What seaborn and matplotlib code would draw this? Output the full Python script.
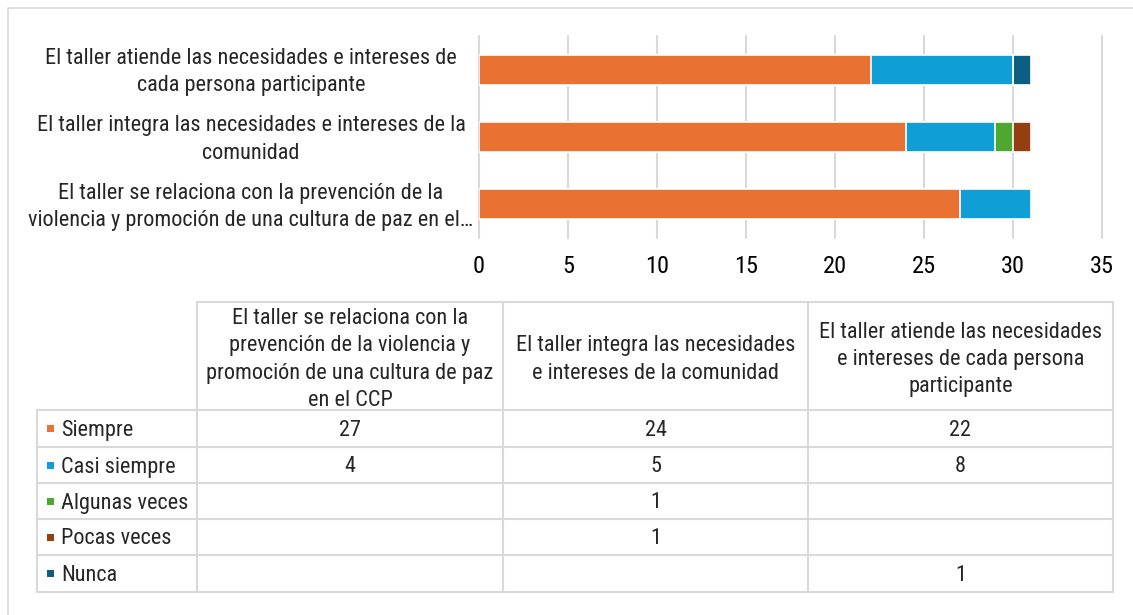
import pandas as pd
import matplotlib
matplotlib.use("Agg")
import matplotlib.pyplot as plt
import matplotlib.transforms as mtransforms
from matplotlib.patches import Rectangle
from matplotlib import font_manager
import seaborn as sns

categories = [
    "El taller atiende las necesidades e intereses de cada persona participante",
    "El taller integra las necesidades e intereses de la comunidad",
    "El taller se relaciona con la prevención de la violencia y promoción de una cultura de paz en el CCP",
]
axis_labels = [
    "El taller atiende las necesidades e intereses de\ncada persona participante",
    "El taller integra las necesidades e intereses de la\ncomunidad",
    "El taller se relaciona con la prevención de la\nviolencia y promoción de una cultura de paz en el…",
]
table_headers = [
    "El taller se relaciona con la\nprevención de la violencia y\npromoción de una cultura de paz\nen el CCP",
    "El taller integra las necesidades\ne intereses de la comunidad",
    "El taller atiende las necesidades\ne intereses de cada persona\nparticipante",
]
responses = ["Siempre", "Casi siempre", "Algunas veces", "Pocas veces", "Nunca"]
siempre = [22, 24, 27]
casi_siempre = [8, 5, 4]
algunas_veces = [0, 1, 0]
pocas_veces = [0, 1, 0]
nunca = [1, 0, 0]
colors = ["#E97132", "#0F9ED5", "#4EA72E", "#953E12", "#0C5F80"]
xticks = [0, 5, 10, 15, 20, 25, 30, 35]

df = pd.DataFrame({"tema": categories, "Siempre": siempre, "Casi siempre": casi_siempre,
                   "Algunas veces": algunas_veces, "Pocas veces": pocas_veces, "Nunca": nunca})
cum = df[responses].cumsum(axis=1)
for r in responses:
    df["cum_" + r] = cum[r]

sns.set_style("white")
names = {f.name for f in font_manager.fontManager.ttflist}
main_font = "Liberation Sans"
for cand in ["Liberation Sans Narrow", "Arial Narrow", "Roboto Condensed", "Liberation Sans"]:
    if cand in names:
        main_font = cand
        break
plt.rcParams["font.family"] = [main_font, "DejaVu Sans"]

W, H = 1133, 615
fig = plt.figure(figsize=(W / 100, H / 100), dpi=100)

# pick a font size so the widest label line is as wide as in the original (~411 px)
renderer = fig.canvas.get_renderer()
probe = fig.text(0, 0, "El taller atiende las necesidades e intereses de", fontsize=15)
probe_w = probe.get_window_extent(renderer).width
probe.remove()
FS = 15 * 411 / probe_w
LINE = 27.3  # px between lines

# background layer in pixel coordinates for frame + table
bg = fig.add_axes([0, 0, 1, 1], zorder=-1)
bg.set_xlim(0, W)
bg.set_ylim(H, 0)
bg.axis("off")
line_c = "#D9D9D9"
bg.plot([8, 8, W], [H, 8, 8], color=line_c, lw=1.2)


def multiline(axis, x, y, txt, transform=None, **kw):
    lines = txt.split("\n")
    n = len(lines)
    base = transform if transform is not None else axis.transData
    for k, ln in enumerate(lines):
        dy = -(k - (n - 1) / 2) * LINE
        tr = mtransforms.offset_copy(base, fig=fig, x=0, y=dy, units="dots")
        axis.text(x, y, ln, transform=tr, ha="center", va="center_baseline",
                  fontsize=FS, clip_on=False, **kw)


# bar chart
ax_l, ax_r, ax_t, ax_b = 479, 1102, 36, 238
ax = fig.add_axes([ax_l / W, 1 - ax_b / H, (ax_r - ax_l) / W, (ax_b - ax_t) / H])
for i in range(len(responses) - 1, -1, -1):
    sns.barplot(data=df, x="cum_" + responses[i], y="tema", order=categories, orient="h",
                color=colors[i], saturation=1, width=0.45, errorbar=None,
                edgecolor="white", linewidth=1.2, ax=ax)
ax.set_xlim(0, 35)
ax.set_ylim(2.5, -0.5)
ax.set_xticks(xticks)
ax.set_axisbelow(True)
ax.xaxis.grid(True, color=line_c, lw=1.5)
ax.yaxis.grid(False)
for gl in ax.get_xgridlines():
    gl.set_clip_on(False)
sns.despine(ax=ax, left=True, bottom=True)
ax.tick_params(axis="x", length=0, pad=12, labelsize=FS + 1.5, colors="black")
ax.set_yticks([])
ax.set_xlabel("")
ax.set_ylabel("")

trans = mtransforms.blended_transform_factory(fig.transFigure, ax.transData)
for i, lab in enumerate(axis_labels):
    multiline(ax, 251 / W, i, lab, transform=trans)

# data table
col_x = [37, 197, 503, 808, 1113]
row_y = [302, 410, 447, 483, 519, 555, 592]
bg.plot([col_x[1], col_x[-1]], [row_y[0], row_y[0]], color=line_c, lw=1.5)
for y in row_y[1:]:
    bg.plot([col_x[0], col_x[-1]], [y, y], color=line_c, lw=1.5)
bg.plot([col_x[0], col_x[0]], [row_y[1], row_y[-1]], color=line_c, lw=1.5)
for x in col_x[1:]:
    bg.plot([x, x], [row_y[0], row_y[-1]], color=line_c, lw=1.5)

for j, head in enumerate(table_headers):
    cx = (col_x[j + 1] + col_x[j + 2]) / 2
    multiline(bg, cx, (row_y[0] + row_y[1]) / 2 + 1, head)

table_cols = [df[r].tolist()[::-1] for r in responses]
for k, r in enumerate(responses):
    yc = (row_y[k + 1] + row_y[k + 2]) / 2
    bg.add_patch(Rectangle((46.5, yc - 3.5), 7, 7, color=colors[k], lw=0))
    bg.text(61, yc - 0.5, r, ha="left", va="center_baseline", fontsize=FS)
    for j, v in enumerate(table_cols[k]):
        if v:
            cx = (col_x[j + 1] + col_x[j + 2]) / 2
            bg.text(cx, yc - 0.5, str(v), ha="center", va="center_baseline", fontsize=FS)

fig.savefig("out.png", dpi=100)
